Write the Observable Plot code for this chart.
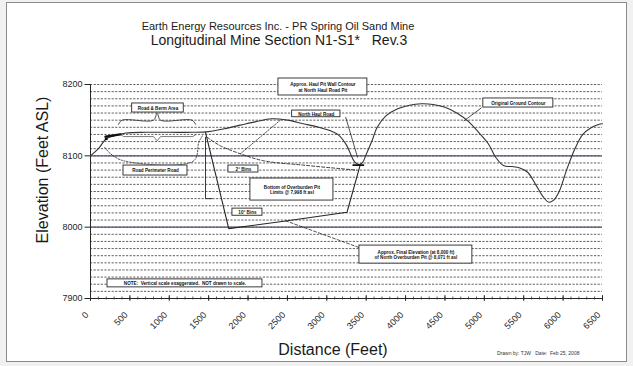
<!DOCTYPE html>
<html>
<head>
<meta charset="utf-8">
<script src="https://cdn.jsdelivr.net/npm/d3@7"></script>
<script src="https://cdn.jsdelivr.net/npm/@observablehq/plot@0.6"></script>
<style>
  html, body { margin: 0; padding: 0; background: #efefef; }
  #wrap { position: relative; width: 633px; height: 366px; overflow: hidden; background: #f1f1f1; font-family: "Liberation Sans", Arial, sans-serif; color: #1a1a1a; }
  #frame { position: absolute; left: 6px; top: 2px; width: 619px; height: 358px; border: 1px solid #8a8a8a; background: #fff; }
  #chart { position: absolute; left: 0; top: 0; }
  .title1 { position: absolute; left: 0; width: 556px; top: 21px; text-align: center; font-size: 11px; line-height: 11px; white-space: pre; }
  .title2 { position: absolute; left: 0; width: 558px; top: 33px; text-align: center; font-size: 14px; line-height: 14px; white-space: pre; }
  .ylab { position: absolute; left: 43px; top: 170px; transform: translate(-50%, -50%) rotate(-90deg); font-size: 16px; white-space: nowrap; }
  .xlab { position: absolute; left: 0; width: 666px; top: 342px; text-align: center; font-size: 16px; line-height: 16px; white-space: nowrap; }
  .drawn { position: absolute; left: 497px; top: 351px; font-size: 5px; line-height: 5px; white-space: pre; color: #333; }
</style>
</head>
<body>
<div id="wrap">
  <div id="frame"></div>
  <div id="chart"></div>
  <div class="title1">Earth Energy Resources Inc. - PR Spring Oil Sand Mine</div>
  <div class="title2">Longitudinal Mine Section N1-S1*   Rev.3</div>
  <div class="ylab">Elevation (Feet ASL)</div>
  <div class="xlab">Distance (Feet)</div>
  <div class="drawn">Drawn by: TJW   Date:  Feb 25, 2008</div>
</div>
<script>
// ---- tick values ----
const xTicks = [0, 500, 1000, 1500, 2000, 2500, 3000, 3500, 4000, 4500, 5000, 5500, 6000, 6500];
const xMinorTicks = d3.range(0, 6501, 100);
const yTicks = [7900, 8000, 8100, 8200];
const yMajorGrid = [8000, 8100];
const yMinorGrid = d3.range(7910, 8201, 10);

// ---- original ground contour ----
const groundDist = [0,100,200,300,450,700,1000,1300,1500,1700,1900,2100,2300,2500,2700,2900,3050,3150,3250,3300,3350,3400,3450,3500,3570,3640,3750,3900,4050,4200,4350,4500,4650,4800,4950,5050,5150,5250,5350,5450,5550,5650,5750,5820,5880,5950,6050,6150,6250,6350,6450,6500];
const groundElev = [8100,8110,8124,8128,8132,8133,8133,8133,8134,8138,8143,8148,8152,8150,8145,8140,8135,8129,8115,8103,8092,8088,8090,8102,8120,8140,8156,8166,8171,8173,8172,8168,8160,8148,8130,8117,8097,8086,8085,8083,8077,8060,8042,8035,8038,8050,8082,8110,8130,8139,8144,8145];

// ---- pit outline (wall, floor, exit ramp) ----
const pitDist = [1460, 1755, 2500, 3257, 3426];
const pitElev = [8133, 7998, 8009, 8021, 8088];

// ---- approx. final surface (dashed) ----
const finalDist = [1480, 1650, 1900, 2200, 2700, 3173, 3380];
const finalElev = [8126, 8114, 8103, 8093, 8087, 8082, 8080];

// ---- thick road segment near start, and pit bottom at the dip ----
const roadDist = [190, 380];
const roadElev = [8127, 8130];
const dipDist = [3335, 3465];
const dipElev = [8087, 8087];

// ---- braces and outlines ----
const braceUpDist = [355, 400, 800, 846, 890, 1290, 1335];
const braceUpElev = [8144, 8150, 8150, 8160, 8150, 8150, 8144];
const braceLowDist = [380, 420, 800, 846, 890, 1300, 1340];
const braceLowElev = [8130, 8127, 8127, 8121, 8127, 8127, 8130];
const roadOutlineDist = [180, 254, 423, 1311, 1375, 1420];
const roadOutlineElev = [8112, 8103, 8093, 8093, 8119, 8128];
const bracketDist = [1460, 1460, 1545];
const bracketElev = [8126, 8040, 8040];

// ---- leader lines: [id, dist, elev] ----
const leaderId   = ["ogc","ogc","nhr","nhr","bins","bins","fin","fin"];
const leaderDist = [4960, 4740, 3240, 3390, 2410, 1904, 2475, 3420];
const leaderElev = [8167, 8149, 8154, 8098, 8150, 8103, 8009, 7971];
const leaderDash = {bins: "1.5,1.5", fin: "3,2"};

// ---- annotation boxes (data units) ----
const boxText = [
  "Road & Berm Area",
  "Road Perimeter Road",
  "Approx. Haul Pit Wall Contour\nat North Haul Road Pit",
  "North Haul Road",
  "Original Ground Contour",
  "2° Bins",
  "Bottom of Overburden Pit\nLimits @ 7,998 ft asl",
  "10° Bins",
  "Approx. Final Elevation (at 8,000 ft)\nof North Overburden Pit @ 8,071 ft asl",
  "NOTE:  Vertical scale exaggerated.  NOT drawn to scale."
];
const boxD1 = [529, 419, 2386, 2560, 4987, 1751, 2030, 1802, 3414, 216];
const boxD2 = [1184, 1231, 3515, 3173, 5876, 2132, 3084, 2183, 4848, 2183];
const boxE1 = [8160.7, 8072.4, 8184.6, 8154.1, 8167.7, 8076.6, 8037.3, 8016, 7948.9, 7915.6];
const boxE2 = [8173.4, 8086.4, 8208.4, 8163.5, 8180.4, 8086.4, 8068.2, 8026, 7974.2, 7926.8];

// ---- build tables ----
const zip = (xs, ys) => xs.map((x, i) => ({d: x, e: ys[i]}));
const ground = zip(groundDist, groundElev);
const pit = zip(pitDist, pitElev);
const finalSurf = zip(finalDist, finalElev);
const road = zip(roadDist, roadElev);
const dip = zip(dipDist, dipElev);
const braceUp = zip(braceUpDist, braceUpElev);
const braceLow = zip(braceLowDist, braceLowElev);
const roadOutline = zip(roadOutlineDist, roadOutlineElev);
const bracket = zip(bracketDist, bracketElev);
const leaders = leaderId.map((id, i) => ({id, d: leaderDist[i], e: leaderElev[i]}));
const boxes = boxText.map((t, i) => ({t, d1: boxD1[i], d2: boxD2[i], e1: boxE1[i], e2: boxE2[i]}));

const ink = "#262626";

const chart = Plot.plot({
  width: 633,
  height: 366,
  marginLeft: 90,
  marginRight: 31,
  marginTop: 84,
  marginBottom: 68,
  style: {background: "transparent", fontFamily: "Liberation Sans, Arial, sans-serif", overflow: "visible"},
  x: {domain: [0, 6500], axis: null},
  y: {domain: [7900, 8200], axis: null},
  marks: [
    // gridlines
    Plot.ruleY(yMinorGrid, {stroke: "#4e4e4e", strokeWidth: 0.9, strokeDasharray: "2.2,1.4"}),
    Plot.ruleY(yMajorGrid, {stroke: "#4f5566", strokeWidth: 1.1}),
    // axes
    Plot.ruleX([0], {y1: 7900, y2: 8200, stroke: ink, strokeWidth: 1}),
    Plot.ruleY([7900], {x1: 0, x2: 6500, stroke: ink, strokeWidth: 1.1}),
    Plot.ruleY(yTicks, {x1: -70, x2: 0, stroke: ink, strokeWidth: 1}),
    Plot.ruleX(xMinorTicks, {x: d => d, y1: 7898, y2: 7902, stroke: ink, strokeWidth: 0.8}),
    Plot.ruleX(xTicks, {x: d => d, y1: 7896, y2: 7904, stroke: ink, strokeWidth: 1}),
    Plot.text(yTicks, {x: 0, y: d => d, text: d => String(d), dx: -8, textAnchor: "end", fontSize: 9, fill: ink}),
    Plot.text(xTicks, {x: d => d, y: 7900, text: d => String(d), rotate: -45, textAnchor: "end", lineAnchor: "bottom", dx: -1.5, dy: 17, fontSize: 9, fill: ink}),
    // braces, outlines, leaders
    Plot.line(roadOutline, {x: "d", y: "e", stroke: ink, strokeWidth: 0.8, strokeDasharray: "1.5,1.5", curve: "catmull-rom"}),
    Plot.line(braceUp, {x: "d", y: "e", stroke: ink, strokeWidth: 0.8, curve: "catmull-rom"}),
    Plot.line(braceLow, {x: "d", y: "e", stroke: "#444", strokeWidth: 0.7, curve: "linear"}),
    Plot.line(bracket, {x: "d", y: "e", stroke: ink, strokeWidth: 0.9}),
    Plot.line(leaders.filter(l => l.id !== "bins" && l.id !== "fin"), {x: "d", y: "e", z: "id", stroke: ink, strokeWidth: 0.8}),
    Plot.line(leaders.filter(l => l.id === "bins"), {x: "d", y: "e", z: "id", stroke: ink, strokeWidth: 0.8, strokeDasharray: leaderDash.bins}),
    Plot.line(leaders.filter(l => l.id === "fin"), {x: "d", y: "e", z: "id", stroke: ink, strokeWidth: 0.8, strokeDasharray: leaderDash.fin}),
    // final surface
    Plot.line(finalSurf, {x: "d", y: "e", stroke: ink, strokeWidth: 0.9, strokeDasharray: "3,2", curve: "catmull-rom"}),
    // pit outline
    Plot.line(pit, {x: "d", y: "e", stroke: ink, strokeWidth: 1.1}),
    // ground contour
    Plot.line(ground, {x: "d", y: "e", stroke: "#333", strokeWidth: 1.1, curve: "catmull-rom"}),
    Plot.line(road, {x: "d", y: "e", stroke: "#111", strokeWidth: 2.4}),
    Plot.line(dip, {x: "d", y: "e", stroke: "#111", strokeWidth: 1.8}),
    Plot.dot([ground[2]], {x: "d", y: "e", r: 1.6, symbol: "square", fill: "#111"}),
    // annotation boxes
    Plot.rect(boxes, {x1: "d1", x2: "d2", y1: "e1", y2: "e2", fill: "white", stroke: ink, strokeWidth: 0.9}),
    Plot.text(boxes, {x: b => (b.d1 + b.d2) / 2, y: b => (b.e1 + b.e2) / 2, text: "t", fontSize: 4.6, fontWeight: "bold", lineHeight: 1.25, fill: "#111"})
  ]
});
document.getElementById("chart").appendChild(chart);
</script>
</body>
</html>
